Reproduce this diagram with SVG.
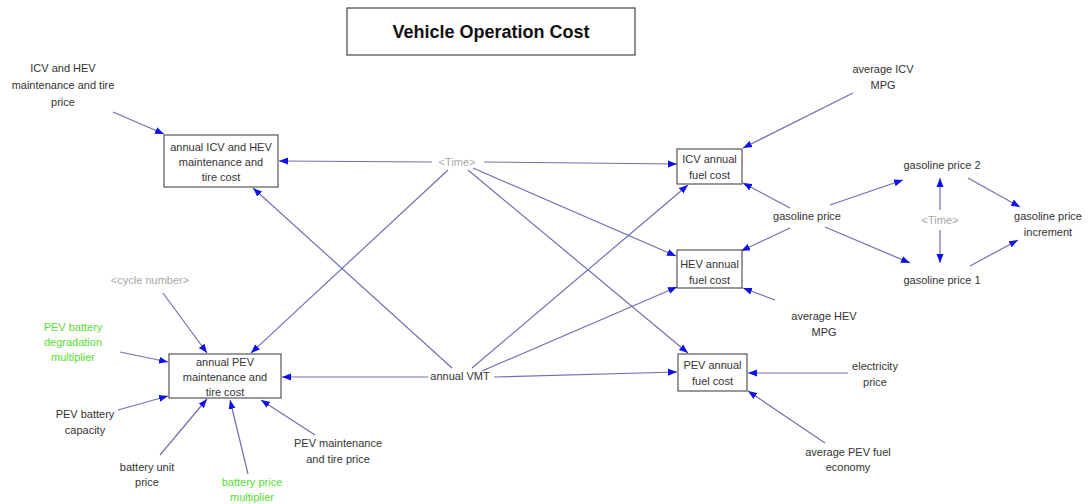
<svg xmlns="http://www.w3.org/2000/svg" width="1089" height="504" viewBox="0 0 1089 504">
<defs>
<marker id="ah" markerUnits="userSpaceOnUse" markerWidth="10" markerHeight="8" refX="9" refY="4" orient="auto">
<path d="M0,0.5 L9,4 L0,7.5 Z" fill="#1010e8"/>
</marker>
<style>
text{font-family:"Liberation Sans",Arial,sans-serif;font-size:11px;fill:#333;text-anchor:middle}
.title{font-size:18px;font-weight:bold;fill:#111}
.gray{fill:#a8a8a8}
.green{fill:#55dd33}
.box{fill:#fff;stroke:#555;stroke-width:1.2}
#connectors line{stroke:#7070ae;stroke-width:1.2;marker-end:url(#ah)}
</style>
</defs>
<rect width="1089" height="504" fill="#fff"/>
<g id="title"><rect x="347" y="8" width="288" height="47" fill="#fff" stroke="#444" stroke-width="1.2"/><text class="title" x="491" y="38">Vehicle Operation Cost</text></g>
<g id="connectors">
<line x1="113" y1="112" x2="164" y2="134"/>
<line x1="432" y1="162" x2="279" y2="161"/>
<line x1="484" y1="162" x2="677" y2="164"/>
<line x1="473" y1="168" x2="676" y2="256"/>
<line x1="468" y1="170" x2="688" y2="353"/>
<line x1="448" y1="170" x2="251" y2="353"/>
<line x1="452" y1="368" x2="253" y2="188"/>
<line x1="428" y1="377" x2="282" y2="377"/>
<line x1="472" y1="368" x2="688" y2="185"/>
<line x1="482" y1="371" x2="677" y2="287"/>
<line x1="494" y1="377" x2="677" y2="372"/>
<line x1="853" y1="93" x2="743" y2="148"/>
<line x1="790" y1="208" x2="743" y2="183"/>
<line x1="790" y1="228" x2="741" y2="251"/>
<line x1="830" y1="205" x2="903" y2="180"/>
<line x1="825" y1="227" x2="910" y2="263"/>
<line x1="940" y1="210" x2="940" y2="178"/>
<line x1="940" y1="230" x2="940" y2="263"/>
<line x1="968" y1="178" x2="1020" y2="207"/>
<line x1="970" y1="266" x2="1018" y2="240"/>
<line x1="775" y1="300" x2="743" y2="288"/>
<line x1="848" y1="373" x2="748" y2="373"/>
<line x1="825" y1="443" x2="748" y2="391"/>
<line x1="163" y1="293" x2="207" y2="353"/>
<line x1="120" y1="352" x2="168" y2="362"/>
<line x1="118" y1="410" x2="168" y2="396"/>
<line x1="160" y1="455" x2="207" y2="399"/>
<line x1="248" y1="474" x2="230" y2="400"/>
<line x1="315" y1="435" x2="261" y2="400"/>
</g>
<g id="annual_icv_hev_maint"><rect class="box" x="164" y="135" width="114" height="52"/><text x="221" y="151">annual ICV and HEV</text><text x="221" y="166">maintenance and</text><text x="221" y="181">tire cost</text></g>
<g id="icv_fuel_cost"><rect class="box" x="677" y="149" width="65" height="35"/><text x="709.5" y="163">ICV annual</text><text x="709.5" y="179">fuel cost</text></g>
<g id="hev_fuel_cost"><rect class="box" x="677" y="250" width="65" height="38"/><text x="709.5" y="268">HEV annual</text><text x="709.5" y="284">fuel cost</text></g>
<g id="pev_fuel_cost"><rect class="box" x="678" y="354" width="69" height="37"/><text x="712.5" y="369">PEV annual</text><text x="712.5" y="385">fuel cost</text></g>
<g id="annual_pev_maint"><rect class="box" x="169" y="354" width="112" height="44"/><text x="225" y="366">annual PEV</text><text x="225" y="381">maintenance and</text><text x="225" y="396">tire cost</text></g>
<g id="icv_hev_maint_price"><text x="63" y="72">ICV and HEV</text><text x="63" y="89">maintenance and tire</text><text x="63" y="106">price</text></g>
<g id="avg_icv_mpg"><text x="883" y="73">average ICV</text><text x="883" y="89">MPG</text></g>
<g id="gasoline_price"><text x="807" y="220">gasoline price</text></g>
<g id="gasoline_price_2"><text x="942" y="169">gasoline price 2</text></g>
<g id="gasoline_price_1"><text x="942" y="284">gasoline price 1</text></g>
<g id="time_right"><text class="gray" x="940" y="224">&lt;Time&gt;</text></g>
<g id="gasoline_increment"><text x="1048" y="220">gasoline price</text><text x="1048" y="236">increment</text></g>
<g id="avg_hev_mpg"><text x="824" y="320">average HEV</text><text x="824" y="336">MPG</text></g>
<g id="electricity_price"><text x="875" y="370">electricity</text><text x="875" y="386">price</text></g>
<g id="avg_pev_economy"><text x="848" y="456">average PEV fuel</text><text x="848" y="471">economy</text></g>
<g id="annual_vmt"><text x="460" y="380">annual VMT</text></g>
<g id="time_center"><text class="gray" x="457" y="166">&lt;Time&gt;</text></g>
<g id="cycle_number"><text class="gray" x="150" y="284">&lt;cycle number&gt;</text></g>
<g id="pev_degradation"><text class="green" x="73" y="331">PEV battery</text><text class="green" x="73" y="346">degradation</text><text class="green" x="73" y="361">multiplier</text></g>
<g id="pev_capacity"><text x="85" y="418">PEV battery</text><text x="85" y="434">capacity</text></g>
<g id="battery_unit_price"><text x="147" y="471">battery unit</text><text x="147" y="486">price</text></g>
<g id="battery_price_mult"><text class="green" x="252" y="486">battery price</text><text class="green" x="252" y="501">multiplier</text></g>
<g id="pev_maint_price"><text x="338" y="447">PEV maintenance</text><text x="338" y="463">and tire price</text></g>
</svg>
